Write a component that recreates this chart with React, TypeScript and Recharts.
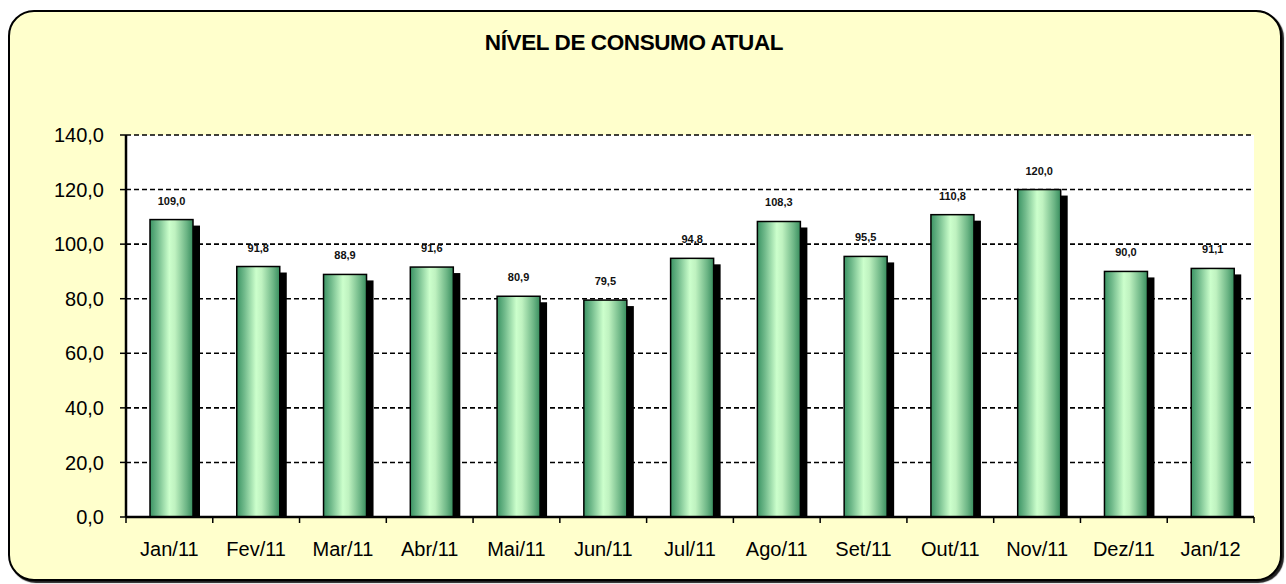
import React from 'react';
import { BarChart, Bar, XAxis, YAxis, CartesianGrid } from 'recharts';

const months = ['Jan/11', 'Fev/11', 'Mar/11', 'Abr/11', 'Mai/11', 'Jun/11', 'Jul/11', 'Ago/11', 'Set/11', 'Out/11', 'Nov/11', 'Dez/11', 'Jan/12'];
const consumo = [109.0, 91.8, 88.9, 91.6, 80.9, 79.5, 94.8, 108.3, 95.5, 110.8, 120.0, 90.0, 91.1];
const yTicks = [0, 20, 40, 60, 80, 100, 120, 140];

const data = months.map((mes, i) => ({ mes, valor: consumo[i] }));

const font = '"Liberation Sans", Arial, sans-serif';
const fmt = (v: number) => v.toFixed(1).replace('.', ',');

// plot area is 1128px wide, 13 categories
const BAND = 1128 / 13;

const BarShape = (props: any) => {
	const { x, y, width, height } = props;
	const bx = x + 2;
	return (
		<g>
			<rect x={bx + 7} y={y + 6} width={width} height={Math.max(height - 6, 0)} fill="#000" />
			<rect x={bx} y={y} width={width} height={height} fill="url(#verde)" stroke="#000" strokeWidth={1.5} />
		</g>
	);
};

const ValueLabel = (props: any) => {
	const { x, y, width, value } = props;
	return (
		<text x={x + width / 2 + 2} y={y - 15} textAnchor="middle" fontSize={11} fontWeight="bold" fill="#111" fontFamily={font}>
			{fmt(value)}
		</text>
	);
};

const MonthTick = (props: any) => {
	const { x, y, payload, index } = props;
	return (
		<g>
			<line x1={x - BAND / 2} x2={x - BAND / 2} y1={y} y2={y + 6} stroke="#000" strokeWidth={1.5} />
			{index === months.length - 1 && (
				<line x1={x + BAND / 2} x2={x + BAND / 2} y1={y} y2={y + 6} stroke="#000" strokeWidth={1.5} />
			)}
			<text x={x} y={y + 39} textAnchor="middle" fontSize={20} fill="#000" fontFamily={font}>
				{payload.value}
			</text>
		</g>
	);
};

export default function App() {
	return (
		<div style={{ position: 'absolute', left: 0, top: 0, width: 1286, height: 584, background: '#fff', fontFamily: font }}>
			<div
				style={{
					position: 'absolute',
					left: 8,
					top: 10,
					width: 1274,
					height: 571,
					boxSizing: 'border-box',
					border: '2px solid #000',
					borderRadius: 26,
					background: '#FFFFCC',
					boxShadow: '2px 2px 1px #222',
				}}
			/>
			<div
				style={{
					position: 'absolute',
					left: 434,
					width: 400,
					top: 30,
					textAlign: 'center',
					fontSize: 22.5,
					fontWeight: 'bold',
					letterSpacing: -0.4,
					color: '#000',
				}}
			>
				NÍVEL DE CONSUMO ATUAL
			</div>
			<div style={{ position: 'absolute', left: 0, top: 0 }}>
				<BarChart width={1286} height={584} data={data} margin={{ top: 135, right: 32, bottom: 27, left: 66 }} barCategoryGap={0}>
					<defs>
						<linearGradient id="verde" x1="0" y1="0" x2="1" y2="0">
							<stop offset="0%" stopColor="#3b9464" />
							<stop offset="18%" stopColor="#72bb8c" />
							<stop offset="45%" stopColor="#ccffcc" />
							<stop offset="58%" stopColor="#bff2c0" />
							<stop offset="85%" stopColor="#6cb585" />
							<stop offset="100%" stopColor="#388d5e" />
						</linearGradient>
					</defs>
					<CartesianGrid vertical={false} stroke="#000" strokeWidth={1.6} strokeDasharray="5 3" fill="#fff" fillOpacity={1} />
					<XAxis
						dataKey="mes"
						height={40}
						tickSize={0}
						tickMargin={0}
						tickLine={false}
						axisLine={{ stroke: '#000', strokeWidth: 2.5 }}
						tick={<MonthTick />}
						interval={0}
					/>
					<YAxis
						width={60}
						domain={[0, 140]}
						ticks={yTicks}
						tickFormatter={fmt}
						tickSize={6}
						tickMargin={16}
						axisLine={{ stroke: '#000', strokeWidth: 2.5 }}
						tickLine={{ stroke: '#000', strokeWidth: 1.5 }}
						tick={{ fontSize: 20, fill: '#000', fontFamily: font }}
					/>
					<Bar dataKey="valor" barSize={43} shape={<BarShape />} label={<ValueLabel />} isAnimationActive={false} />
				</BarChart>
			</div>
		</div>
	);
}
